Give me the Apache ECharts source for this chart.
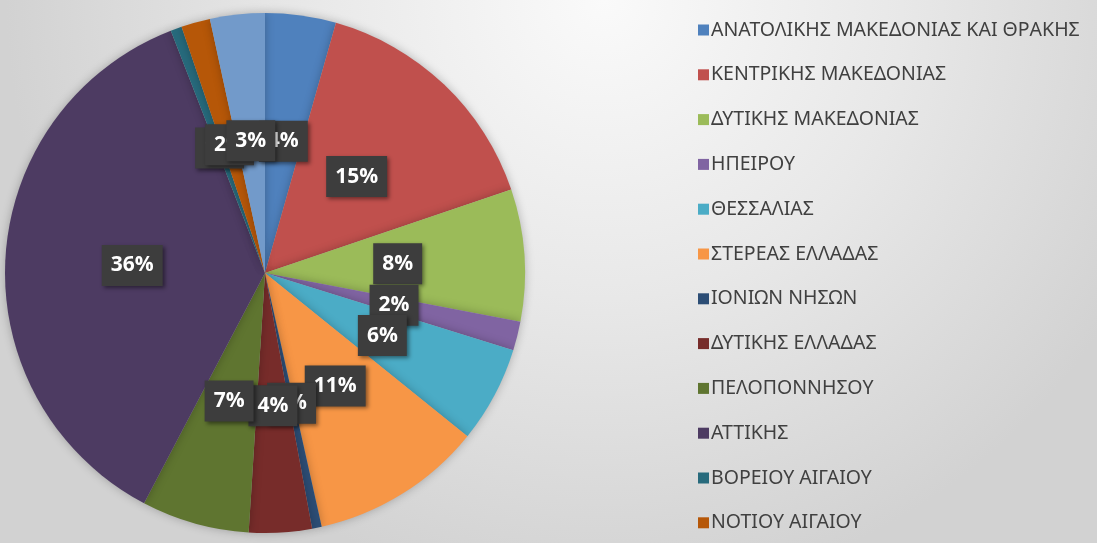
<!DOCTYPE html>
<html>
<head>
<meta charset="utf-8">
<script src="https://cdn.jsdelivr.net/npm/echarts@6/dist/echarts.min.js"></script>
<style>
  html, body { margin: 0; padding: 0; }
  #chart { width: 1097px; height: 543px; }
</style>
</head>
<body>
<div id="chart"></div>
<script>
// Regions of Greece and their share (%) of the total
const regions = [
  'ΑΝΑΤΟΛΙΚΗΣ ΜΑΚΕΔΟΝΙΑΣ ΚΑΙ ΘΡΑΚΗΣ',
  'ΚΕΝΤΡΙΚΗΣ ΜΑΚΕΔΟΝΙΑΣ',
  'ΔΥΤΙΚΗΣ ΜΑΚΕΔΟΝΙΑΣ',
  'ΗΠΕΙΡΟΥ',
  'ΘΕΣΣΑΛΙΑΣ',
  'ΣΤΕΡΕΑΣ ΕΛΛΑΔΑΣ',
  'ΙΟΝΙΩΝ ΝΗΣΩΝ',
  'ΔΥΤΙΚΗΣ ΕΛΛΑΔΑΣ',
  'ΠΕΛΟΠΟΝΝΗΣΟΥ',
  'ΑΤΤΙΚΗΣ',
  'ΒΟΡΕΙΟΥ ΑΙΓΑΙΟΥ',
  'ΝΟΤΙΟΥ ΑΙΓΑΙΟΥ',
  'ΚΡΗΤΗΣ'
];
const shares = [4.4, 15.4, 8.2, 1.8, 6.0, 10.7, 0.6, 3.9, 6.7, 36.4, 0.7, 1.8, 3.4];

const palette = [
  '#4F81BD', '#C0504D', '#9BBB59', '#8064A2', '#4BACC6', '#F79646',
  '#2C4D75', '#772C2A', '#5F7530', '#4D3B62', '#276A7C', '#B65708', '#729ACA'
];

const total = shares.reduce((a, b) => a + b, 0);

const chart = echarts.init(document.getElementById('chart'), null, { renderer: 'canvas' });

chart.setOption({
  animation: false,
  backgroundColor: {
    type: 'radial', x: 0.55, y: 0.0, r: 1.1,
    colorStops: [
      { offset: 0, color: '#fafafa' },
      { offset: 0.5, color: '#e8e8e8' },
      { offset: 1, color: '#d2d2d2' }
    ]
  },
  color: palette,
  legend: {
    orient: 'vertical',
    left: 693,
    top: 15,
    height: 800,
    itemWidth: 11,
    itemHeight: 11,
    itemGap: 24.8,
    icon: 'rect',
    textStyle: {
      fontFamily: 'Noto Sans',
      fontSize: 19.5,
      lineHeight: 19,
      color: '#404040',
      padding: [0, 0, 0, -3]
    },
    data: regions
  },
  series: [{
    type: 'pie',
    center: [265, 273],
    radius: 260,
    startAngle: 90,
    clockwise: true,
    avoidLabelOverlap: false,
    itemStyle: {
      shadowBlur: 10,
      shadowColor: 'rgba(0,0,0,0.25)'
    },
    label: {
      show: true,
      position: 'inside',
      formatter: p => Math.round(p.value / total * 100) + '%',
      fontFamily: 'Open Sans',
      fontWeight: 'bold',
      fontSize: 21,
      lineHeight: 22,
      color: '#ffffff',
      backgroundColor: '#3d3d3d',
      padding: [10, 9, 9, 9],
      shadowColor: 'rgba(0,0,0,0.45)',
      shadowBlur: 4,
      shadowOffsetX: 2,
      shadowOffsetY: 2
    },
    labelLayout: { hideOverlap: false },
    labelLine: { show: false },
    emphasis: { disabled: true },
    data: regions.map((name, i) => ({ name: name, value: shares[i] }))
  }]
});
</script>
</body>
</html>
